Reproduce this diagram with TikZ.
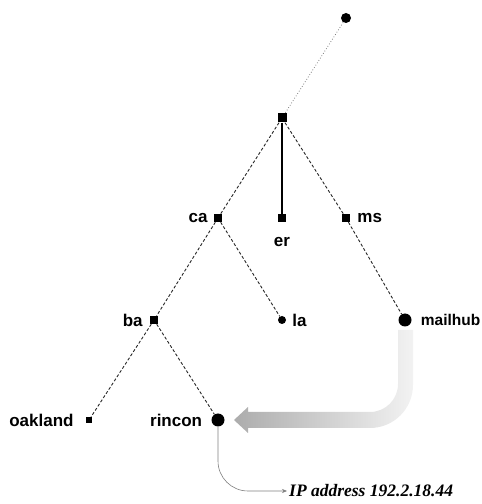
\documentclass[tikz,border=0pt]{standalone}
\usepackage{fontspec}
\setmainfont{Liberation Sans}
\newfontfamily\ipfont{Liberation Serif}
\usetikzlibrary{arrows.meta, positioning}

\begin{document}
\begin{tikzpicture}[x=1pt, y=1pt,
  sq/.style={fill=black, minimum size=8pt, inner sep=0pt},
  sqsmall/.style={fill=black, minimum size=6pt, inner sep=0pt},
  dot/.style={circle, fill=black, minimum size=8pt, inner sep=0pt},
  bigdot/.style={circle, fill=black, minimum size=13pt, inner sep=0pt},
  lbl/.style={font=\fontsize{17}{17}\selectfont\bfseries, inner sep=0pt},
  link/.style={line width=0.9pt, black!85, dash pattern=on 3pt off 2pt}]
  \useasboundingbox (0,0) rectangle (482,504);

  % Nœuds de l'arbre
  \node[dot, minimum size=10pt] (root) at (346,486) {};
  \node[sq, minimum size=9pt] (top) at (282,386) {};
  \node[sq] (ca) at (218,286) {};
  \node[sq] (er) at (282,286) {};
  \node[sq] (ms) at (346,286) {};
  \node[sq] (ba) at (154,184) {};
  \node[dot] (la) at (282,184) {};
  \node[bigdot] (mailhub) at (405,184) {};
  \node[sqsmall] (oakland) at (89,84) {};
  \node[bigdot] (rincon) at (218,84) {};

  % Étiquettes
  \node[lbl, left=6pt of ca] {ca};
  \node[lbl, below=15pt of er] {er};
  \node[lbl, right=7pt of ms] {ms};
  \node[lbl, left=7pt of ba] {ba};
  \node[lbl, right=6pt of la] {la};
  \node[lbl, font=\fontsize{15.5}{15.5}\selectfont\bfseries, right=9pt of mailhub] {mailhub};
  \node[lbl, left=12pt of oakland] {oakland};
  \node[lbl, left=9pt of rincon] {rincon};

  % Liaisons
  \draw[gray, line width=0.8pt, dotted] (root) -- (top);
  \draw[line width=1.5pt] (top) -- (er);
  \draw[link] (top) -- (ca);
  \draw[link] (top) -- (ms);
  \draw[link] (ca) -- (ba);
  \draw[link] (ca) -- (la);
  \draw[link] (ms) -- (mailhub);
  \draw[link] (ba) -- (oakland);
  \draw[link] (ba) -- (rincon);

  % Grosse flèche grise (mailhub -> rincon)
  \shade[left color=gray!65, right color=gray!10]
    (398,174) -- (413,174) -- (413,119) arc[start angle=0, end angle=-90, radius=43]
    -- (248,76) -- (248,71) -- (234,84) -- (248,97) -- (248,92)
    -- (370,92) arc[start angle=-90, end angle=0, radius=28] -- cycle;

  % Adresse IP
  \node[font=\ipfont\fontsize{17.5}{17.5}\selectfont\bfseries\itshape, anchor=west, inner sep=2pt]
    (ip) at (287,13) {IP address 192.2.18.44};
  \draw[gray, line width=0.6pt, rounded corners=30pt, -{Stealth[length=5pt, width=4pt]}]
    (rincon) |- (ip.west);
\end{tikzpicture}
\end{document}
